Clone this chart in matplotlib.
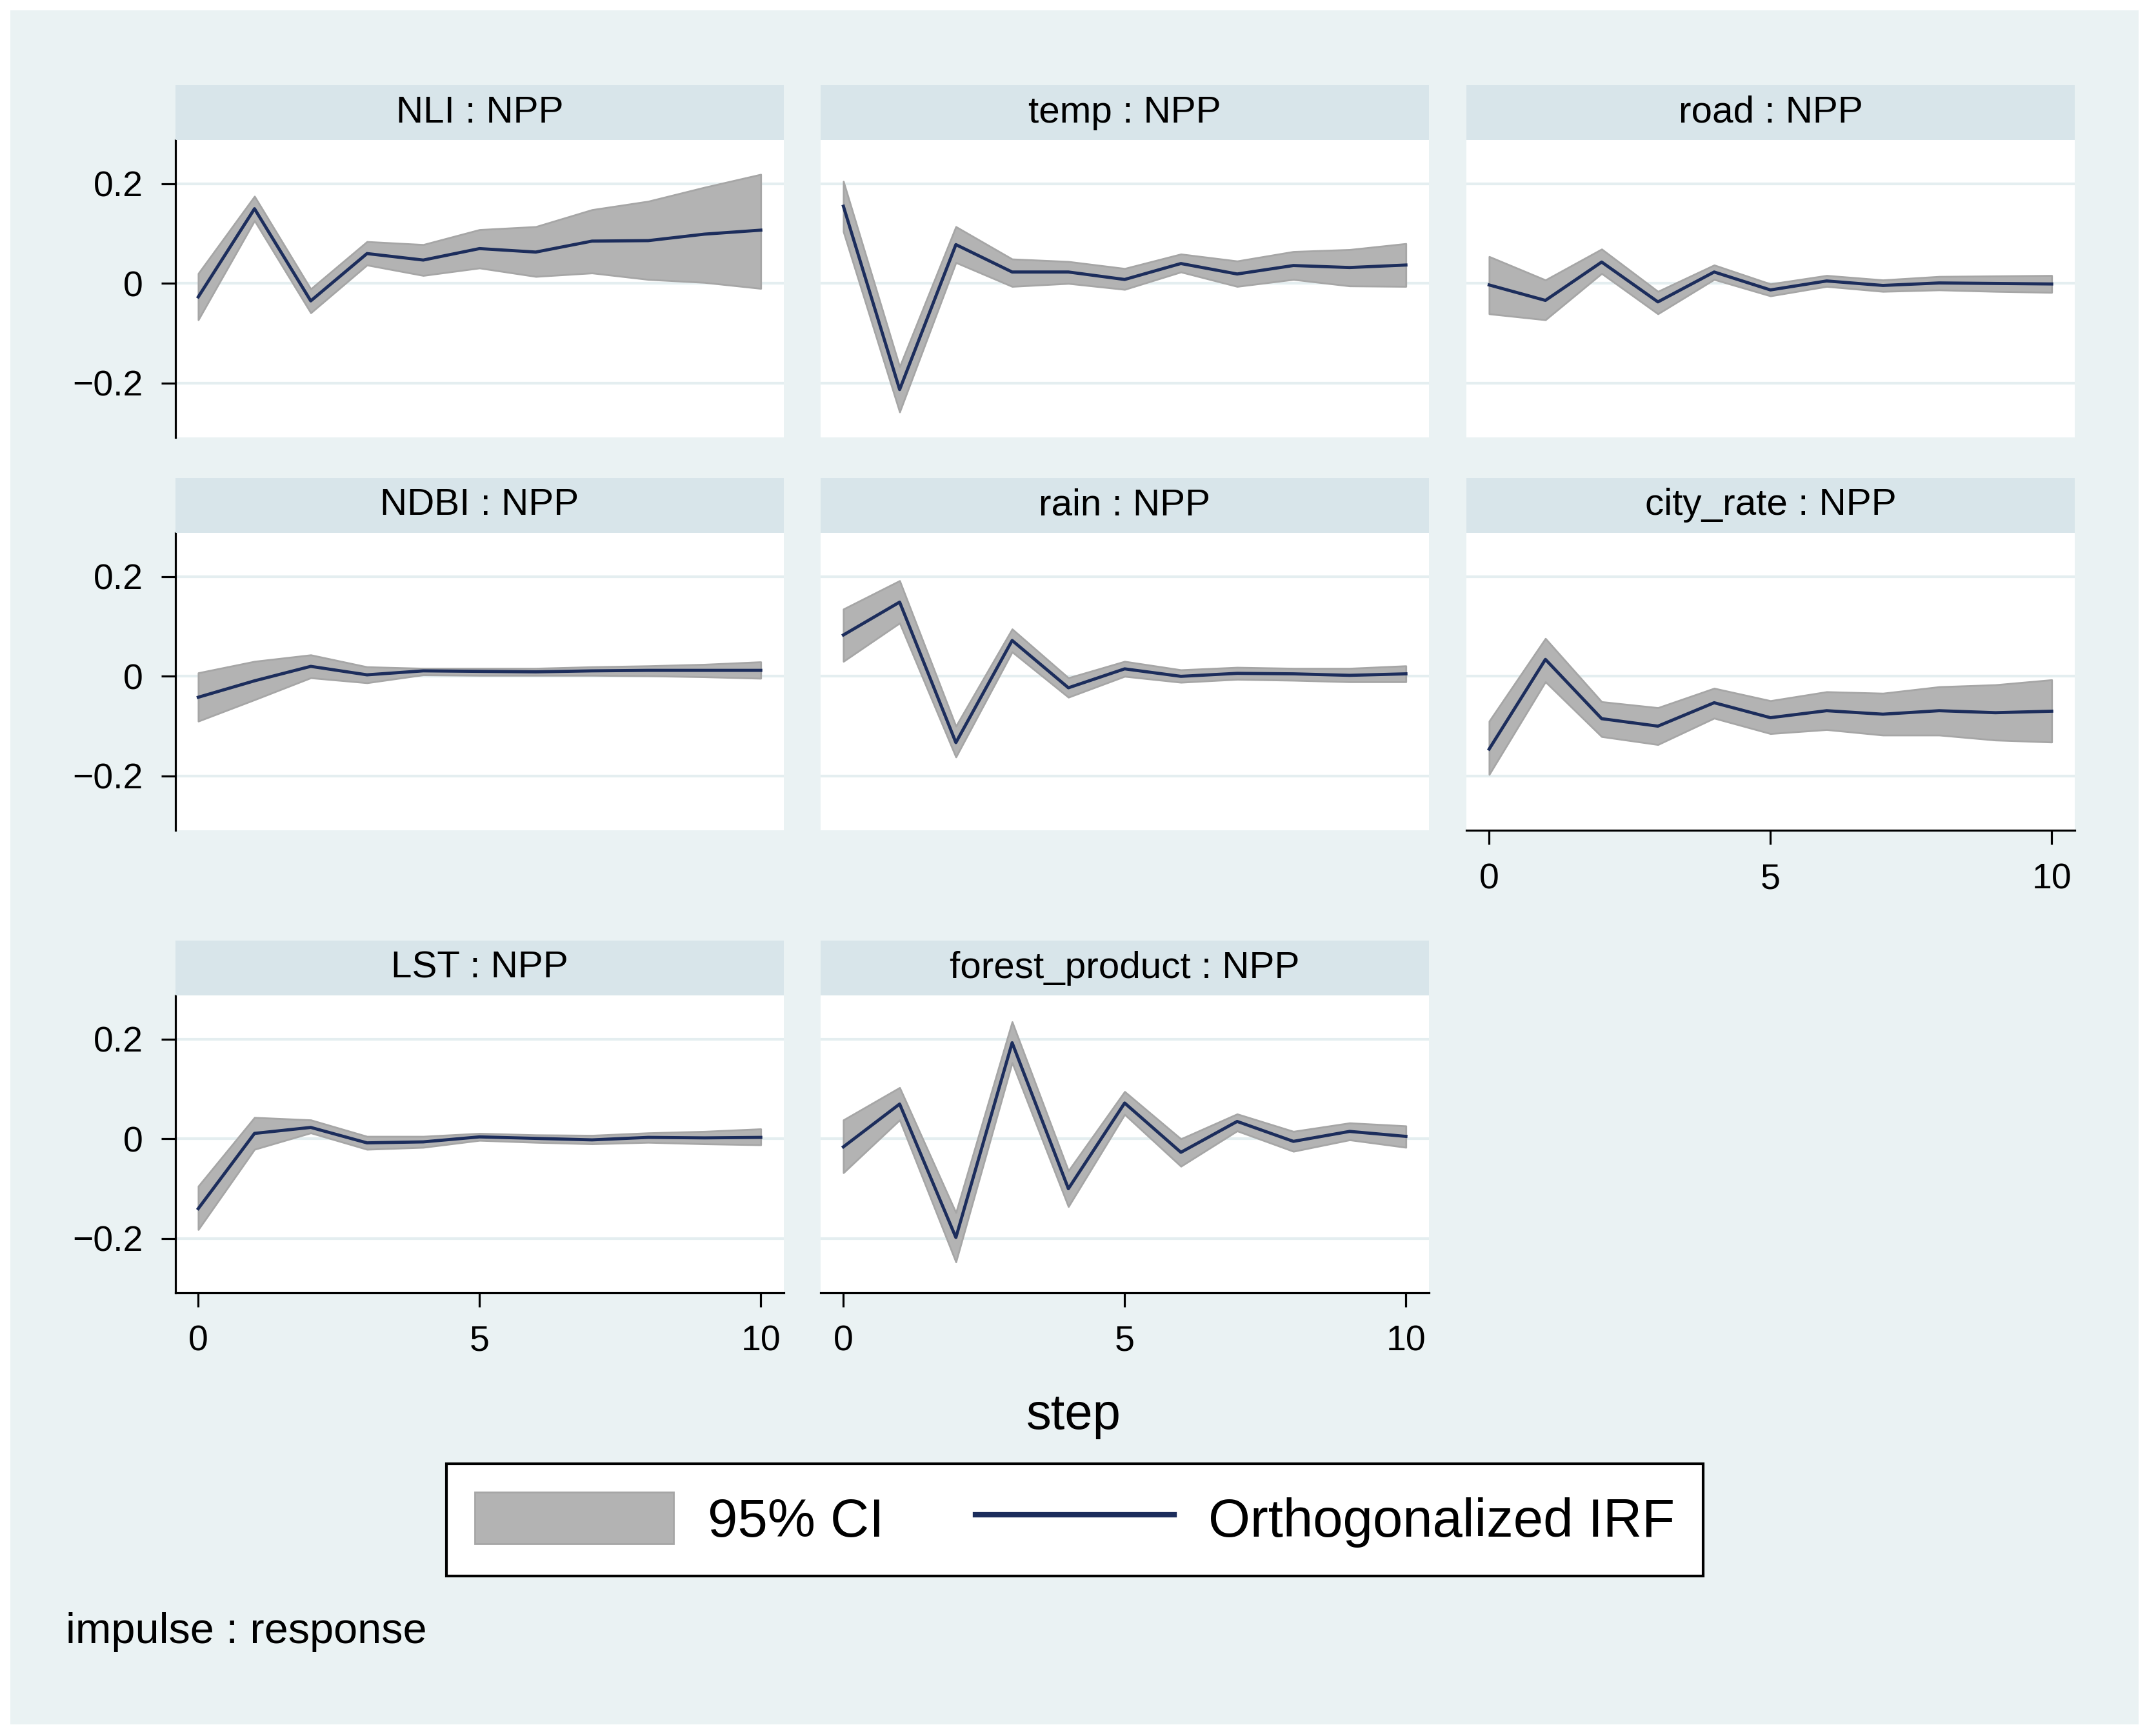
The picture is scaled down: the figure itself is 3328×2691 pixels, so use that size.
import matplotlib
matplotlib.use('Agg')
import matplotlib.pyplot as plt
from matplotlib.patches import Patch, Rectangle
from matplotlib.lines import Line2D

plt.rcParams['font.family'] = ['Liberation Sans', 'DejaVu Sans']

# ---------------- data ----------------
steps = list(range(11))
panel_titles = ["NLI : NPP", "temp : NPP", "road : NPP",
                "NDBI : NPP", "rain : NPP", "city_rate : NPP",
                "LST : NPP", "forest_product : NPP"]

nli_irf = [-0.027, 0.150, -0.035, 0.060, 0.047, 0.070, 0.063, 0.085, 0.086, 0.099, 0.107]
nli_lo  = [-0.073, 0.126, -0.059, 0.037, 0.016, 0.031, 0.014, 0.021, 0.008, 0.002, -0.010]
nli_hi  = [0.020, 0.175, -0.011, 0.084, 0.078, 0.108, 0.114, 0.148, 0.165, 0.193, 0.219]

temp_irf = [0.155, -0.213, 0.078, 0.023, 0.023, 0.008, 0.040, 0.019, 0.036, 0.032, 0.037]
temp_lo  = [0.104, -0.258, 0.042, -0.006, 0.000, -0.012, 0.023, -0.006, 0.008, -0.005, -0.006]
temp_hi  = [0.205, -0.167, 0.114, 0.049, 0.044, 0.030, 0.059, 0.045, 0.064, 0.068, 0.080]

road_irf = [-0.003, -0.034, 0.043, -0.037, 0.023, -0.013, 0.005, -0.004, 0.001, 0.000, -0.001]
road_lo  = [-0.061, -0.073, 0.020, -0.061, 0.008, -0.025, -0.006, -0.016, -0.013, -0.016, -0.018]
road_hi  = [0.054, 0.007, 0.069, -0.016, 0.037, -0.001, 0.016, 0.007, 0.014, 0.015, 0.016]

ndbi_irf = [-0.042, -0.009, 0.020, 0.003, 0.011, 0.010, 0.009, 0.011, 0.012, 0.012, 0.012]
ndbi_lo  = [-0.090, -0.047, -0.003, -0.013, 0.003, 0.002, 0.002, 0.002, 0.001, -0.001, -0.004]
ndbi_hi  = [0.007, 0.030, 0.043, 0.019, 0.016, 0.016, 0.016, 0.019, 0.021, 0.024, 0.029]

rain_irf = [0.083, 0.149, -0.133, 0.072, -0.023, 0.015, 0.000, 0.006, 0.005, 0.002, 0.005]
rain_lo  = [0.030, 0.107, -0.162, 0.049, -0.042, 0.000, -0.012, -0.006, -0.008, -0.011, -0.011]
rain_hi  = [0.135, 0.192, -0.100, 0.095, -0.003, 0.030, 0.013, 0.018, 0.016, 0.016, 0.021]

city_irf = [-0.146, 0.034, -0.085, -0.100, -0.053, -0.083, -0.069, -0.076, -0.069, -0.073, -0.070]
city_lo  = [-0.197, -0.011, -0.121, -0.137, -0.084, -0.115, -0.107, -0.118, -0.118, -0.128, -0.132]
city_hi  = [-0.090, 0.076, -0.051, -0.063, -0.024, -0.049, -0.031, -0.034, -0.021, -0.017, -0.007]

lst_irf = [-0.140, 0.011, 0.023, -0.008, -0.006, 0.004, 0.001, -0.002, 0.003, 0.002, 0.003]
lst_lo  = [-0.182, -0.021, 0.012, -0.021, -0.017, -0.003, -0.007, -0.010, -0.007, -0.010, -0.012]
lst_hi  = [-0.095, 0.043, 0.038, 0.005, 0.005, 0.011, 0.008, 0.007, 0.012, 0.015, 0.020]

forest_irf = [-0.016, 0.070, -0.198, 0.193, -0.100, 0.072, -0.027, 0.035, -0.005, 0.015, 0.005]
forest_lo  = [-0.068, 0.038, -0.247, 0.153, -0.136, 0.049, -0.055, 0.016, -0.025, -0.002, -0.017]
forest_hi  = [0.038, 0.103, -0.148, 0.235, -0.064, 0.095, 0.000, 0.050, 0.015, 0.032, 0.026]

y_ticks = [-0.2, 0, 0.2]
y_ticklabels = ["\u22120.2", "0", "0.2"]
x_ticks = [0, 5, 10]
x_ticklabels = ["0", "5", "10"]

series = [(nli_irf, nli_lo, nli_hi), (temp_irf, temp_lo, temp_hi),
          (road_irf, road_lo, road_hi), (ndbi_irf, ndbi_lo, ndbi_hi),
          (rain_irf, rain_lo, rain_hi), (city_irf, city_lo, city_hi),
          (lst_irf, lst_lo, lst_hi), (forest_irf, forest_lo, forest_hi)]

# ---------------- style ----------------
W, H = 3328, 2691
BG = '#EAF2F3'
STRIP = '#D8E5EA'
GRID = '#E4EEF0'
CI_FILL = '#B3B3B3'
CI_EDGE = '#A6A6A6'
NAVY = '#1C2D5C'

fig = plt.figure(figsize=(W / 100, H / 100), dpi=100, facecolor='white')
fig.patches.append(Rectangle((16 / W, (H - 2673) / H), 3299 / W, 2657 / H,
                             transform=fig.transFigure, facecolor=BG,
                             edgecolor='none', zorder=-1))


def px(l, t, w, h):
    return [l / W, 1 - (t + h) / H, w / W, h / H]


col_left = [272, 1272, 2273]
col_w = 943
plot_top = [217, 826, 1543]
plot_h = 461
strip_top = [132, 741, 1458]
strip_h = 85

bottom_axis = {5, 6, 7}
left_axis = {0, 3, 6}

for i, (title, (irf, lo, hi)) in enumerate(zip(panel_titles, series)):
    r, c = divmod(i, 3)
    ax = fig.add_axes(px(col_left[c], plot_top[r], col_w, plot_h))
    ax.set_facecolor('white')
    ax.fill_between(steps, lo, hi, facecolor=CI_FILL, edgecolor=CI_EDGE,
                    linewidth=2.0, zorder=2)
    ax.plot(steps, irf, color=NAVY, lw=3.5, zorder=3)
    ax.set_xlim(-0.405, 10.41)
    ax.set_ylim(-0.309, 0.288)
    ax.set_yticks(y_ticks)
    ax.set_xticks(x_ticks)
    ax.grid(axis='y', color=GRID, lw=3, zorder=0)
    ax.grid(axis='x', visible=False)
    ax.set_axisbelow(True)
    for s in ax.spines.values():
        s.set_visible(False)
    if i in left_axis:
        ax.spines['left'].set_visible(True)
        ax.spines['left'].set_linewidth(2.3)
        ax.spines['left'].set_color('black')
        ax.set_yticklabels(y_ticklabels)
        ax.tick_params(axis='y', length=16, width=2.3, pad=20, labelsize=40,
                       direction='out', colors='black')
    else:
        ax.tick_params(axis='y', length=0, labelleft=False)
    if i in bottom_axis:
        ax.spines['bottom'].set_visible(True)
        ax.spines['bottom'].set_linewidth(2.3)
        ax.spines['bottom'].set_color('black')
        ax.set_xticklabels(x_ticklabels)
        ax.tick_params(axis='x', length=16, width=2.3, pad=20, labelsize=40,
                       direction='out', colors='black')
    else:
        ax.tick_params(axis='x', length=0, labelbottom=False)

    sax = fig.add_axes(px(col_left[c], strip_top[r], col_w, strip_h))
    sax.set_facecolor(STRIP)
    sax.set_xticks([])
    sax.set_yticks([])
    for s in sax.spines.values():
        s.set_visible(False)
    sax.text(0.5, 0.5, title, ha='center', va='center', fontsize=42,
             transform=sax.transAxes)

fig.text(1664 / W, 1 - 2215 / H, 'step', ha='center', va='baseline', fontsize=56)
fig.text(102 / W, 1 - 2547 / H, 'impulse : response', ha='left',
         va='baseline', fontsize=48)

handles = [Patch(facecolor=CI_FILL, edgecolor=CI_EDGE, linewidth=2),
           Line2D([], [], color=NAVY, lw=6)]
leg = fig.legend(handles, ['95% CI', 'Orthogonalized IRF'], loc='center',
                 bbox_to_anchor=(1666 / W, 1 - 2356 / H), ncol=2, fontsize=60,
                 frameon=True, fancybox=False, edgecolor='black',
                 facecolor='white', framealpha=1, handlelength=3.7,
                 handleheight=1.1, handletextpad=0.63, columnspacing=1.7,
                 borderpad=0.53, borderaxespad=0)
leg.get_frame().set_linewidth(3)

fig.savefig('out.png', dpi=100, facecolor='white')
